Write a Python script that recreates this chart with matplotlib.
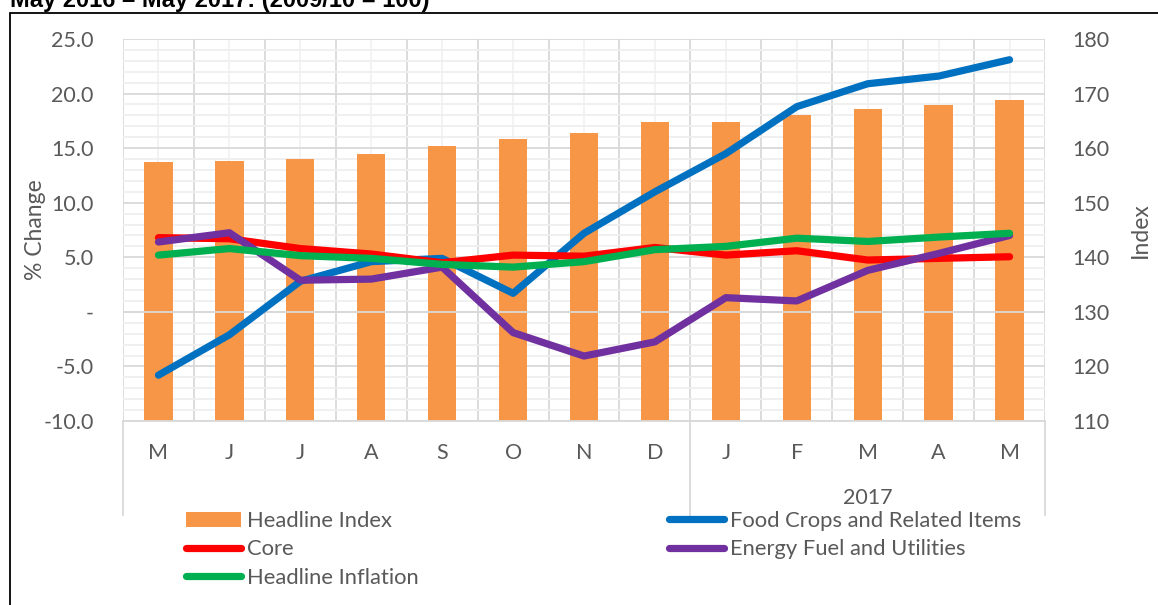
import matplotlib
matplotlib.use("Agg")
import matplotlib.pyplot as plt
from matplotlib.patches import Patch, Rectangle
from matplotlib.lines import Line2D
from matplotlib.ticker import MultipleLocator, FuncFormatter
import matplotlib.transforms as mtransforms
import numpy as np

plt.rcParams['font.family'] = ['Lato', 'DejaVu Sans']

months = ["M", "J", "J", "A", "S", "O", "N", "D", "J", "F", "M", "A", "M"]
year_label = "2017"
headline_index = [157.4, 157.7, 158.0, 158.9, 160.4, 161.7, 162.7, 164.7, 164.7, 166.1, 167.2, 167.9, 168.9]
food_crops = [-5.8, -2.1, 2.8, 4.6, 4.9, 1.7, 7.2, 11.0, 14.5, 18.8, 20.9, 21.6, 23.1]
core = [6.8, 6.7, 5.8, 5.3, 4.5, 5.2, 5.1, 5.9, 5.2, 5.6, 4.75, 4.9, 5.05]
energy = [6.4, 7.25, 2.9, 3.0, 4.1, -1.9, -4.05, -2.75, 1.3, 1.0, 3.8, 5.35, 7.0]
headline_inflation = [5.2, 5.8, 5.15, 4.9, 4.35, 4.1, 4.6, 5.7, 6.0, 6.75, 6.45, 6.85, 7.2]

TXT = '#595959'
W, H = 1158, 605
fig = plt.figure(figsize=(W/100, H/100), dpi=100)

L, R, T, B = 123, 1045, 39, 421
ax = fig.add_axes([L/W, 1-B/H, (R-L)/W, (B-T)/H])
ax2 = ax.twinx()
ax.yaxis.tick_right()
ax.yaxis.set_label_position('right')
ax2.yaxis.tick_left()
ax2.yaxis.set_label_position('left')

x = np.arange(len(months))
ax.set_xlim(-0.5, len(months)-0.5)
ax.set_ylim(110, 180)
ax2.set_ylim(-10, 25)

# grid
ax.set_axisbelow(True)
ax.set_xticks(x)
ax.set_xticks(np.arange(-0.5, len(months)), minor=True)
ax.set_xticklabels(months)
ax.yaxis.set_major_locator(MultipleLocator(10))
ax.yaxis.set_minor_locator(MultipleLocator(2))
ax.grid(which='major', axis='x', color='#F2F2F2', lw=1.3)
ax.grid(which='minor', axis='x', color='#D9D9D9', lw=1.3)
ax.grid(which='major', axis='y', color='#D9D9D9', lw=1.3)
ax.grid(which='minor', axis='y', color='#EFEFEF', lw=1.3)

ax2.yaxis.set_major_locator(MultipleLocator(5))
ax2.yaxis.set_major_formatter(FuncFormatter(lambda v, p: "-" if abs(v) < 1e-9 else f"{v:.1f}"))

for a in (ax, ax2):
    for s in a.spines.values():
        s.set_visible(False)
ax.spines['bottom'].set_visible(True)
ax.spines['bottom'].set_color('#D9D9D9')
ax.spines['bottom'].set_linewidth(1.3)

TS = 15.5
ax.tick_params(axis='both', which='both', length=0, colors=TXT, labelsize=TS)
ax.tick_params(axis='x', pad=16)
ax.tick_params(axis='y', pad=20)
ax2.tick_params(axis='y', length=0, colors=TXT, labelsize=TS, pad=21)

ax.bar(x, headline_index, width=0.4, color='#F79646', zorder=2)
ax2.axhline(0, color='#D9D9D9', lw=1.3, zorder=1)

lw = 5.2
kw = dict(lw=lw, solid_capstyle='round', solid_joinstyle='round')
ax2.plot(x, food_crops, color='#0070C0', **kw)
ax2.plot(x, core, color='#FF0000', **kw)
ax2.plot(x, energy, color='#7030A0', **kw)
ax2.plot(x, headline_inflation, color='#00B050', **kw)

ax2.set_ylabel("% Change", color=TXT, fontsize=16.5, labelpad=-2)
ax.set_ylabel("Index", color=TXT, fontsize=16.5, labelpad=14)

# multi-level category separators
trans = mtransforms.blended_transform_factory(ax.transData, ax.transAxes)
ybot = -(515-421)/(B-T)
for xb in (-0.5, 7.5, len(months)-0.5):
    ax.add_line(Line2D([xb, xb], [0, ybot], transform=trans, color='#D9D9D9', lw=1.3, clip_on=False))
ax.text(10, -(498-421)/(B-T), year_label, transform=trans, ha='center', va='center', color=TXT, fontsize=TS)

# legends
fs = 15.8
h_hi = Patch(facecolor='#F79646', edgecolor='none')
h_core = Line2D([], [], color='#FF0000', lw=lw, solid_capstyle='round')
h_hinf = Line2D([], [], color='#00B050', lw=lw, solid_capstyle='round')
h_food = Line2D([], [], color='#0070C0', lw=lw, solid_capstyle='round')
h_en = Line2D([], [], color='#7030A0', lw=lw, solid_capstyle='round')
common = dict(frameon=False, fontsize=fs, handlelength=2.5, handletextpad=0.27,
              labelspacing=0.38, borderpad=0, borderaxespad=0, loc='upper left')
leg1 = fig.legend([h_hi, h_core, h_hinf], ["Headline Index", "Core", "Headline Inflation"],
                  bbox_to_anchor=(186/W, 1-511/H), **common)
leg2 = fig.legend([h_food, h_en], ["Food Crops and Related Items", "Energy Fuel and Utilities"],
                  bbox_to_anchor=(669/W, 1-511/H), **common)
for lg in (leg1, leg2):
    for t in lg.get_texts():
        t.set_color(TXT)

# title (cropped, as in the reference) and border
fig.text(10/W, 1-7.5/H, "May 2016 \u2013 May 2017: (2009/10 = 100)", fontsize=17, fontweight='bold',
         family='Liberation Sans', va='baseline', ha='left', color='black')
fig.add_artist(Rectangle((10/W, -0.5), 2.0, 1-12.5/H+0.5, transform=fig.transFigure,
                         fill=False, edgecolor='black', lw=1.3))

fig.savefig("out.png", dpi=100)
